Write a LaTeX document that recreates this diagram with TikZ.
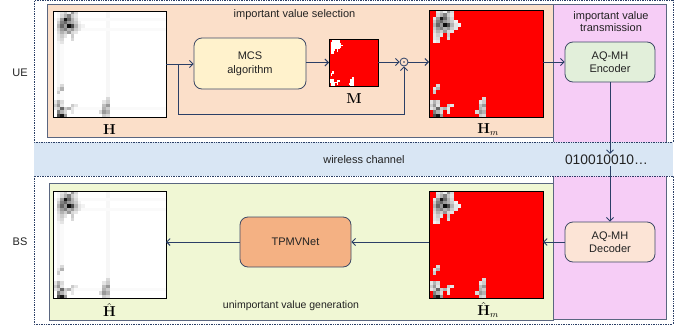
\documentclass[tikz,border=0pt]{standalone}
\usepackage[no-math]{fontspec}
\setmainfont{Liberation Sans}
\usetikzlibrary{arrows.meta,calc}
\definecolor{peachbg}{HTML}{FBDFC9}
\definecolor{pinkbg}{HTML}{F6CDF6}
\definecolor{greenbg}{HTML}{F0F7D4}
\definecolor{bandbg}{HTML}{D9E6F4}
\definecolor{mcsfill}{HTML}{FFF2CC}
\definecolor{encfill}{HTML}{E2EFDA}
\definecolor{decfill}{HTML}{FCE4D6}
\definecolor{tpfill}{HTML}{F4B183}
\definecolor{edgec}{HTML}{3E4A66}
\definecolor{regionc}{HTML}{5A6680}
\definecolor{arrc}{HTML}{2B3F66}
\definecolor{txtc}{HTML}{222222}
\definecolor{pured}{RGB}{255,0,0}
\tikzset{
  img/.style={inner sep=0pt, outer sep=0pt},
  procbox/.style={draw=edgec, line width=0.8pt, rounded corners=8pt, align=center,
     inner sep=2pt, font=\fontsize{11}{14}\selectfont, text=txtc},
  region/.style={draw=regionc, line width=0.8pt},
  dotbox/.style={draw=arrc, line width=0.7pt, densely dotted},
  arr/.style={draw=arrc, line width=0.9pt, -{Straight Barb[length=3.5pt,width=7pt]}},
  lbl/.style={font=\fontsize{11}{13}\selectfont, text=txtc, align=center},
  mlbl/.style={font=\fontsize{13.5}{15}\selectfont, inner sep=0pt},
}
\newcommand\heatcells{2/0/10,3/0/20,4/0/5,5/0/40,6/0/15,
 2/1/15,3/1/30,4/1/50,5/1/20,6/1/10,
 1/2/10,2/2/40,3/2/90,4/2/60,5/2/30,6/2/15,
 1/3/20,2/3/50,3/3/60,4/3/40,5/3/30,6/3/20,7/3/5,
 1/4/30,2/4/60,3/4/40,4/4/95,5/4/70,6/4/30,7/4/10,8/4/5,
 1/5/20,2/5/40,3/5/50,4/5/30,5/5/40,6/5/20,7/5/10,
 1/6/15,2/6/30,3/6/20,4/6/40,5/6/15,6/6/10,
 1/7/10,2/7/20,3/7/10,5/7/20,
 1/8/10,2/8/15,5/8/15,
 1/9/5,2/9/10,
 2/22/15,2/23/30,1/23/10,1/24/20,
 0/27/10,1/27/30,2/27/15,
 0/28/20,1/28/40,2/28/10,5/28/20,6/28/10,
 0/29/10,1/29/20,2/29/60,3/29/20,4/29/30,5/29/10,
 1/30/50,2/30/30,3/30/15,5/30/10,
 1/31/70,2/31/90,3/31/40,
 15/26/15,15/27/20,14/27/10,14/28/25,15/28/40,14/29/30,15/29/20,
 13/30/15,14/30/40,15/30/30,14/31/20,15/31/15}
\newcommand\drawheat[4]{%
 \pgfmathsetmacro\hcw{#2/32}\pgfmathsetmacro\hch{#3/32}%
 \begin{scope}[shift={(#1.north west)},x=\hcw pt,y=-\hch pt]
  \ifcase#4
   \fill[white] (0,0) rectangle (32,32);
   \fill[black!4] (1,0) rectangle (2,32);
   \fill[black!2] (2,8) rectangle (3,32);
   \fill[black!3] (15,0) rectangle (16,32);
   \fill[black!2] (0,2) rectangle (32,3);
   \fill[black!2] (0,5) rectangle (32,6);
   \fill[black!2] (0,29) rectangle (32,30);
   \foreach \ci/\ri/\vi in \heatcells {\fill[black!\vi] (\ci,\ri) rectangle ++(1,1);}
  \or
   \fill[pured] (0,0) rectangle (32,32);
   \foreach \ci/\ri/\vi in \heatcells {\fill[black!\vi] (\ci,\ri) rectangle ++(1,1);}
  \or
   \fill[pured] (0,0) rectangle (32,32);
   \foreach \ci/\ri/\vi in \heatcells {\fill[white] (\ci,\ri) rectangle ++(1,1);}
  \fi
  \draw[black, line width=0.8pt] (0,0) rectangle (32,32);
 \end{scope}}
\begin{document}
\begin{tikzpicture}[x=1pt,y=-1pt]
\useasboundingbox (0,0) rectangle (694,327);
% regions
\fill[pinkbg] (553,4) rectangle (666,319);
\draw[region] (553,4) rectangle (666,319);
\fill[peachbg] (47,4) rectangle (553,137);
\draw[region] (47,4) rectangle (553,137);
\fill[greenbg] (49,183) rectangle (553,320);
\draw[region] (49,183) rectangle (553,320);
\fill[bandbg] (34,142) rectangle (673,176);
\draw[dotbox] (34,0.8) rectangle (673,142);
\draw[dotbox] (34,176) rectangle (673,324);
% side labels
\node[lbl] (ue) at (20,73) {UE};
\node[lbl] (bs) at (20,242) {BS};
% texts
\node[lbl] (sel) at (294.5,15) {important value selection};
\node[lbl] (trans) at (611,21.5) {important value\\[-1.5pt]transmission};
\node[lbl] (wc) at (364,160) {wireless channel};
\node[font=\fontsize{13.8}{16}\selectfont, text=txtc, inner sep=1pt] (bits) at (606.5,160) {010010010…};
\node[lbl, font=\fontsize{10.5}{12}\selectfont] (gen) at (291,306) {unimportant value generation};
% image nodes
\node[img, minimum width=113pt, minimum height=106pt] (H) at (109.5,64) {};
\node[img, minimum width=49pt, minimum height=47pt] (M) at (353.5,62.5) {};
\node[img, minimum width=114pt, minimum height=107pt] (Hm) at (486,63.5) {};
\node[img, minimum width=113pt, minimum height=107pt] (Hh) at (109.5,244.5) {};
\node[img, minimum width=114pt, minimum height=107pt] (Hhm) at (486,244.5) {};
\drawheat{H}{113}{106}{0}
\drawheat{M}{49}{47}{2}
\drawheat{Hm}{114}{107}{1}
\drawheat{Hh}{113}{107}{0}
\drawheat{Hhm}{114}{107}{1}
% matrix labels
\node[mlbl] (Hl) at (109.5,129.5) {$\mathbf{H}$};
\node[mlbl] (Ml) at (354,98.5) {$\mathbf{M}$};
\node[mlbl] (Hml) at (488,129.5) {$\mathbf{H}_m$};
\node[mlbl] (Hhl) at (109.5,310) {$\hat{\mathbf{H}}$};
\node[mlbl] (Hhml) at (488,310) {$\hat{\mathbf{H}}_m$};
% process boxes
\node[procbox, fill=mcsfill, minimum width=112pt, minimum height=51pt] (mcs) at (250,63.5) {MCS\\algorithm};
\node[procbox, fill=encfill, minimum width=90pt, minimum height=40pt, font=\fontsize{11}{13}\selectfont] (enc) at (610,62) {AQ-MH\\Encoder};
\node[procbox, fill=decfill, minimum width=90pt, minimum height=40pt, font=\fontsize{11}{13}\selectfont] (dec) at (610,242) {AQ-MH\\Decoder};
\node[procbox, fill=tpfill, minimum width=111pt, minimum height=50pt] (tp) at (295.5,242) {TPMVNet};
\node[draw=arrc, line width=0.8pt, circle, minimum size=8pt, inner sep=0pt] (od) at (404,62) {};
\fill[arrc] (od.center) circle (0.9pt);
% connectors
\coordinate (br) at (178,64);
\coordinate (lo) at (178,114);
\draw[arr] (H.east |- br) -- (br -| mcs.west);
\draw[arr] (br) -- (lo) -| (od.south);
\draw[arr] (mcs.east |- M.west) -- (M.west);
\draw[arr] (M.east |- od.west) -- (od.west);
\draw[arr] (od.east) -- (od.east -| Hm.west);
\draw[arr] (Hm.east |- enc.west) -- (enc.west);
\draw[arr] (enc.south) -- (bits.north -| enc.south);
\draw[arr] (bits.south -| dec.north) -- (dec.north);
\draw[arr] (dec.west) -- (dec.west -| Hhm.east);
\draw[arr] (Hhm.west |- tp.east) -- (tp.east);
\draw[arr] (tp.west) -- (tp.west -| Hh.east);
\end{tikzpicture}
\end{document}
